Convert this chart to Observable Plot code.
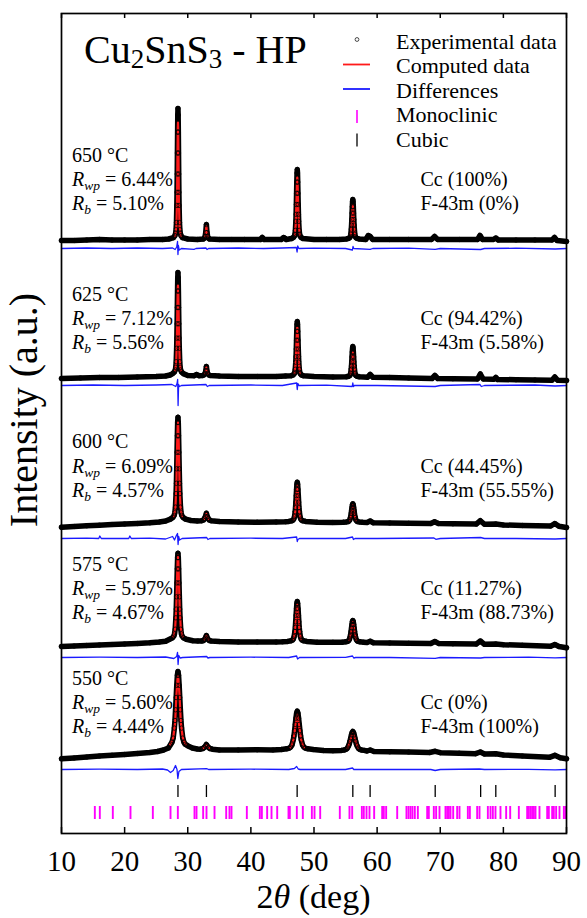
<!DOCTYPE html>
<html><head><meta charset="utf-8">
<script src="https://cdn.jsdelivr.net/npm/d3@7"></script>
<script src="https://cdn.jsdelivr.net/npm/@observablehq/plot@0.6"></script>
<style>body{margin:0;background:#fff} svg{display:block}</style>
</head><body><div id="chart"></div>
<script>
// ---------- DATA (2θ in degrees, intensity in a.u. above each pattern's baseline) ----------
const temps = ["650", "625", "600", "575", "550"];
const rwp = ["6.44", "7.12", "6.09", "5.97", "5.60"];
const rb = ["5.10", "5.56", "4.57", "4.67", "4.44"];
const ccPct = ["100", "94.42", "44.45", "11.27", "0"];
const f43Pct = ["0", "5.58", "55.55", "88.73", "100"];
const xTicks = [10, 20, 30, 40, 50, 60, 70, 80, 90];

const cubicPeaks = [28.45, 32.96, 47.33, 56.15, 58.89, 69.2, 76.4, 78.8, 88.2];
const monoPeaks = [15.28, 16.07, 18.13, 20.93, 24.47, 27.27, 28.43, 31.07, 31.39, 32.44, 32.97, 34.24, 36.09, 36.61, 36.93, 39.36, 41.42, 41.74, 42.58, 43.27, 44.17, 45.96, 46.17, 47.28, 48.23, 49.66, 50.08, 50.98, 54.09, 55.62, 56.05, 57.58, 57.89, 58.32, 58.79, 59.53, 60.8, 61.06, 61.43, 63.18, 64.65, 64.97, 65.29, 65.6, 65.97, 66.45, 67.93, 68.19, 68.98, 69.35, 69.88, 70.83, 71.1, 71.36, 71.62, 72.05, 72.68, 73.05, 74.37, 74.69, 75.85, 76.22, 77.54, 77.96, 78.33, 78.75, 79.54, 80.44, 81.08, 82.45, 83.77, 84.03, 84.3, 84.56, 84.83, 85.09, 85.72, 86.94, 87.2, 87.73, 87.99, 88.36, 88.89, 89.58, 89.84];

const obs650 = [[10,1],[12,1],[14,1.5],[16,2],[18,1.5],[20,1.5],[22,1.5],[24,2],[26,2],[27,2.5],
[27.73,3.8],[27.97,5.9],[28.09,8.55],[28.15,11.8],[28.21,19],[28.27,36.1],[28.3,49.2],[28.33,67.5],[28.36,88.5],[28.39,109.4],[28.42,126.5],[28.45,133],[28.48,126.5],[28.51,109.4],[28.54,88.5],[28.57,67.5],[28.6,49.2],[28.63,36.1],[28.69,19],[28.75,11.8],[28.81,8.55],[28.93,5.9],[29.17,3.8],
[30,2.5],[31.5,2],[32.45,2.5],[32.65,3.5],[32.75,5],[32.85,9],[32.95,17],[33.05,9],[33.15,5],[33.25,3.5],[33.45,2.5],
[35,2],[37,2],[39,2],[41.5,2],[41.8,4],[42.1,2],[44.8,2],[45.2,4],[45.6,2],
[46.45,3],[46.75,4.1],[46.9,5.5],[46.975,7.25],[47.05,11.1],[47.125,20.2],[47.1625,27.2],[47.2,37],[47.2375,48.2],[47.275,59.4],[47.3125,68.5],[47.35,72],[47.3875,68.5],[47.425,59.4],[47.4625,48.2],[47.5,37],[47.5375,27.2],[47.575,20.2],[47.65,11.1],[47.725,7.25],[47.8,5.5],[47.95,4.1],[48.25,3],
[50,2],[52,2],[54,2],
[55.19,2.6],[55.51,3.2],[55.67,4],[55.75,5],[55.83,7.2],[55.91,12.4],[55.95,16.4],[55.99,22],[56.03,28.4],[56.07,34.8],[56.11,40],[56.15,42],[56.19,40],[56.23,34.8],[56.27,28.4],[56.31,22],[56.35,16.4],[56.39,12.4],[56.47,7.2],[56.55,5],[56.63,4],[56.79,3.2],[57.11,2.6],
[58.2,2],[58.6,6],[58.9,5],[59.3,2],[62,2],[65,2],[68.6,2],[69.1,5],[69.6,2],[73,2],[75.9,2],[76.3,6],[76.7,2],[78.4,2],[78.8,3.5],[79.2,1.5],[82,1.5],[85,1.5],[87.7,1.5],[88.1,4],[88.5,1],[90,0]];

const obs625 = [[10,-1],[13,-0.5],[16,0],[19,0],[22,0.5],[25,1],[26.5,1.5],[27.2,2.5],
[27.61,3.9],[27.89,5.6],[28.03,7.6],[28.1,10.2],[28.17,15.8],[28.24,29.2],[28.275,39.4],[28.31,53.7],[28.345,70],[28.38,86.5],[28.415,100],[28.45,105],[28.485,100],[28.52,86.5],[28.555,70],[28.59,53.7],[28.625,39.4],[28.66,29.2],[28.73,15.8],[28.8,10.2],[28.87,7.6],[29.01,5.6],[29.29,3.9],
[30,2],[31,1.8],[31.4,3],[31.8,1.8],
[32.35,2],[32.55,2.5],[32.75,4],[32.85,6.5],[32.95,11],[33.05,6.5],[33.15,4],[33.35,2.5],[33.55,2],
[35,1.5],[38,1],[41,1],[44,1],[45.5,1.5],
[46.39,1.8],[46.71,2.65],[46.87,3.75],[46.95,5.1],[47.03,8.2],[47.11,15.3],[47.15,20.8],[47.19,28.5],[47.23,37.3],[47.27,46.1],[47.31,53.3],[47.35,56],[47.39,53.3],[47.43,46.1],[47.47,37.3],[47.51,28.5],[47.55,20.8],[47.59,15.3],[47.67,8.2],[47.75,5.1],[47.83,3.75],[47.99,2.65],[48.31,1.8],
[50,1],[53,0.5],
[55.13,0.7],[55.47,1.2],[55.64,1.8],[55.725,2.6],[55.81,4.3],[55.895,8.3],[55.94,11.4],[55.98,15.7],[56.02,20.6],[56.065,25.5],[56.11,29.5],[56.15,31],[56.19,29.5],[56.235,25.5],[56.28,20.6],[56.32,15.7],[56.36,11.4],[56.405,8.3],[56.49,4.3],[56.575,2.6],[56.66,1.8],[56.83,1.2],[57.17,0.7],
[58.5,0.3],[58.9,3],[59.3,0.3],[62,0],[65,-0.5],[68.7,-1],[69.15,2],[69.6,-1],[72,-1.2],[75.9,-1.5],[76.35,3.5],[76.8,-1.5],[78.5,-1.8],[78.8,0],[79.1,-2],[82,-2.2],[85,-2.5],[87.7,-2.7],[88.15,0.5],[88.6,-2.8],[90,-3]];

const obs600 = [[10,-4.7],[12,-4],[14,-3.3],[16,-2.7],[18,-2],[20,-1.5],[22,-1],[24,-0.3],[25.5,0.5],[26.5,1.5],
[27.25,3.4],[27.65,5.1],[27.85,7.2],[27.95,9.7],[28.05,15.4],[28.15,28.9],[28.2,39.2],[28.25,53.7],[28.3,70.2],[28.35,86.7],[28.4,100.1],[28.45,105.3],[28.5,100.1],[28.55,86.7],[28.6,70.2],[28.65,53.7],[28.7,39.2],[28.75,28.9],[28.85,15.4],[28.95,9.7],[29.05,7.2],[29.25,5.1],[29.65,3.4],
[30.5,2],[31.5,1.6],
[32.2,1.8],[32.5,2.5],[32.65,4],[32.8,6],[32.95,9.3],[33.1,6],[33.25,4],[33.4,2.5],[33.7,1.8],
[35,1],[38,0.5],[41,0.3],[44,0.5],[45.5,0.8],
[46.03,1.1],[46.47,1.7],[46.69,2.5],[46.8,3.5],[46.91,5.7],[47.02,10.8],[47.075,14.8],[47.13,20.4],[47.185,26.8],[47.24,33.1],[47.295,38.3],[47.35,40.3],[47.405,38.3],[47.46,33.1],[47.515,26.8],[47.57,20.4],[47.625,14.8],[47.68,10.8],[47.79,5.7],[47.9,3.5],[48.01,2.5],[48.23,1.7],[48.67,1.1],
[50.5,0.3],[53,0],
[54.65,0.3],[55.15,0.6],[55.4,0.9],[55.525,1.4],[55.65,2.4],[55.775,4.9],[55.84,6.7],[55.9,9.4],[55.96,12.3],[56.025,15.3],[56.09,17.8],[56.15,18.7],[56.21,17.8],[56.275,15.3],[56.34,12.3],[56.4,9.4],[56.46,6.7],[56.525,4.9],[56.65,2.4],[56.775,1.4],[56.9,0.9],[57.15,0.6],[57.65,0.3],
[58.4,0],[58.9,1.5],[59.4,-0.3],[62,-0.5],[65,-0.8],[68.5,-1],[69.1,0.8],[69.7,-1],[72,-1.3],[75.7,-1.6],[76.35,1.8],[77,-1.8],[78.8,-1.5],[80,-2.5],[83,-3],[87.5,-3.5],[88.15,-1],[88.8,-3.7],[90,-5]];

const obs575 = [[10,-4],[12,-3.5],[14,-3],[16,-2.5],[18,-2],[20,-1.5],[22,-1],[24,-0.3],[25.5,0.5],[26.5,1.2],
[27.13,3.2],[27.57,4.6],[27.79,6.4],[27.9,8.5],[28.01,13.3],[28.12,24.7],[28.175,33.4],[28.23,45.7],[28.285,59.6],[28.34,73.6],[28.395,84.9],[28.45,89.3],[28.505,84.9],[28.56,73.6],[28.615,59.6],[28.67,45.7],[28.725,33.4],[28.78,24.7],[28.89,13.3],[29,8.5],[29.11,6.4],[29.33,4.6],[29.77,3.2],
[30.8,1.8],[31.6,1.5],
[32.2,1.5],[32.5,2],[32.65,3],[32.8,4.5],[32.95,7],[33.1,4.5],[33.25,3],[33.4,2],[33.7,1.5],
[35,1],[38,0.5],[41,0.5],[44,0.5],[45,0.7],
[45.85,1.1],[46.35,1.7],[46.6,2.5],[46.725,3.5],[46.85,5.8],[46.975,11],[47.04,15.1],[47.1,20.75],[47.16,27.2],[47.225,33.7],[47.29,39],[47.35,41],[47.41,39],[47.475,33.7],[47.54,27.2],[47.6,20.75],[47.66,15.1],[47.725,11],[47.85,5.8],[47.975,3.5],[48.1,2.5],[48.35,1.7],[48.85,1.1],
[50.5,0.3],[53,0.2],
[54.47,0.3],[55.03,0.66],[55.31,1.1],[55.45,1.65],[55.59,2.9],[55.73,5.7],[55.8,7.9],[55.87,11],[55.94,14.5],[56.01,18],[56.08,20.9],[56.15,22],[56.22,20.9],[56.29,18],[56.36,14.5],[56.43,11],[56.5,7.9],[56.57,5.7],[56.71,2.9],[56.85,1.65],[56.99,1.1],[57.27,0.66],[57.83,0.3],
[58.4,0],[58.9,1.3],[59.4,-0.3],[62,-0.5],[65,-0.8],[68.5,-1],[69.15,1],[69.8,-1.1],[72,-1.3],[75.7,-1.6],[76.35,1.5],[77,-1.8],[78.8,-1.5],[80,-2.2],[83,-2.8],[87.5,-3.8],[88.15,-2],[88.8,-4],[90,-5.3]];

const obs550 = [[10,-8.3],[12,-7.5],[14,-6.6],[16,-5.6],[18,-4.8],[20,-4],[22,-3],[24,-2],[25.2,-1],
[26.17,0.5],[26.93,2.5],[27.31,6.3],[27.5,8.2],[27.69,12.4],[27.88,22.4],[27.975,30],[28.07,40.75],[28.165,53],[28.26,65.2],[28.355,75.2],[28.45,79],[28.545,75.2],[28.64,65.2],[28.735,53],[28.83,40.75],[28.925,30],[29.02,22.4],[29.21,12.4],[29.4,8.2],[29.59,6.3],[29.97,4.8],[30.73,2.5],
[31.5,1.5],
[32,1.3],[32.4,2],[32.6,3],[32.8,4.5],[32.95,6],[33.1,4.5],[33.3,3],[33.5,2],[33.9,1.3],
[35,0.5],[38,0.6],[41,0.7],[43.5,0.6],
[44.83,1],[45.67,1.7],[46.09,2.4],[46.3,3.4],[46.51,5.5],[46.72,10.6],[46.825,14.5],[46.93,19.9],[47.035,26.1],[47.14,32.3],[47.245,37.4],[47.35,39.3],[47.455,37.4],[47.56,32.3],[47.665,26.1],[47.77,19.9],[47.875,14.5],[47.98,10.6],[48.19,5.5],[48.4,3.4],[48.61,2.4],[49.03,1.7],[49.87,1],
[51.5,0],[53,-0.2],
[54.35,0.1],[54.8,0.5],[55.025,1],[55.25,2],[55.475,4.6],[55.5875,6.5],[55.7,9.25],[55.8125,12.4],[55.925,15.5],[56.0375,18],[56.15,19],[56.2625,18],[56.375,15.5],[56.4875,12.4],[56.6,9.25],[56.7125,6.5],[56.825,4.6],[57.05,2],[57.275,1],[57.5,0.5],[57.95,0.1],
[58.4,-0.5],[58.9,0.5],[59.5,-1],[62,-1.3],[65,-1.6],[68.3,-2],[69.2,-0.8],[70,-2.2],[73,-2.7],[75.6,-3.2],[76.35,-1.5],[77,-3.5],[78.8,-3.3],[80,-4.5],[83,-5.5],[87.3,-6.8],[88.15,-4.8],[89,-7.2],[90,-8.3]];

// computed profiles (visible red parts at the reflections)
const calc650 = [
 [[28.0,5],[28.2,15],[28.3,40],[28.36,82],[28.42,114],[28.45,119],[28.48,114],[28.54,82],[28.6,40],[28.7,15],[28.9,5]],
 [[32.75,5],[32.85,9],[32.95,15],[33.05,9],[33.15,5]],
 [[46.95,6],[47.1,17],[47.22,40],[47.3,59],[47.35,64],[47.4,59],[47.48,40],[47.6,17],[47.75,6]],
 [[55.8,6],[55.95,15],[56.05,28],[56.15,37],[56.25,28],[56.35,15],[56.5,6]]];
const calc625 = [
 [[28.0,7],[28.17,15],[28.27,35],[28.34,65],[28.41,88],[28.45,92],[28.49,88],[28.56,65],[28.63,35],[28.73,15],[28.9,7]],
 [[32.7,4],[32.85,6.5],[32.95,10],[33.05,6.5],[33.2,4]],
 [[46.9,4],[47.1,14],[47.22,35],[47.3,47],[47.35,50],[47.4,47],[47.48,35],[47.6,14],[47.8,4]],
 [[55.75,3],[55.95,12],[56.07,22],[56.15,25],[56.23,22],[56.35,12],[56.55,3]]];
const calc600 = [
 [[27.8,6],[28.05,15],[28.2,38],[28.32,78],[28.41,97],[28.45,100],[28.49,97],[28.58,78],[28.7,38],[28.85,15],[29.1,6]],
 [[32.6,3.5],[32.8,5.5],[32.95,8.5],[33.1,5.5],[33.3,3.5]],
 [[46.8,3],[47.05,11],[47.2,25],[47.3,35],[47.35,37],[47.4,35],[47.5,25],[47.65,11],[47.9,3]],
 [[55.7,2],[55.95,10],[56.1,16],[56.15,17],[56.2,16],[56.35,10],[56.6,2]]];
const calc575 = [
 [[27.7,6],[28.0,14],[28.17,33],[28.3,62],[28.4,84],[28.45,87],[28.5,84],[28.6,62],[28.73,33],[28.9,14],[29.2,6]],
 [[32.6,3],[32.8,4.5],[32.95,6.5],[33.1,4.5],[33.3,3]],
 [[46.75,3],[47.0,11],[47.17,26],[47.3,36],[47.35,38],[47.4,36],[47.53,26],[47.7,11],[47.95,3]],
 [[55.6,2.5],[55.9,11],[56.08,19],[56.15,20],[56.22,19],[56.4,11],[56.7,2.5]]];
const calc550 = [
 [[27.2,6],[27.7,13],[28.0,28],[28.2,55],[28.37,71],[28.45,74],[28.53,71],[28.7,55],[28.9,28],[29.2,13],[29.7,6]],
 [[32.4,2],[32.7,3.8],[32.95,5.5],[33.2,3.8],[33.5,2]],
 [[46.3,3],[46.75,11],[47.05,24],[47.25,33],[47.35,36],[47.45,33],[47.65,24],[47.95,11],[48.4,3]],
 [[55.3,2.5],[55.75,10],[56.02,16],[56.15,17],[56.28,16],[56.55,10],[57.0,2.5]]];

// differences (obs - calc)
const diff650 = [[10,0],[14,0.5],[18,0],[22,0.5],[26,0],[27.6,0.5],[28.0,-1],[28.25,1.5],[28.38,7],[28.45,-6],[28.52,3],[28.65,-1.5],[29,0],[31,-0.8],[31.3,0],[32.9,0.5],[33.05,-1],[33.3,0],[38,0.5],[42,0],[45,0.5],[47.2,1],[47.32,-3.5],[47.42,2.5],[47.6,0],[50,0.3],[55,0],[56.08,-1.5],[56.18,2],[56.3,0],[58.9,-0.8],[59.3,0],[65,0.3],[69.2,-0.8],[70,0],[76.4,-1],[77,0],[82,0.3],[88.2,-0.5],[90,0]];
const diff625 = [[10,0],[15,0.5],[20,0],[25,0.5],[27.5,1],[28.1,-1],[28.3,2],[28.4,6],[28.47,-20],[28.55,1],[28.7,-1],[29,0],[32.9,1],[33.1,-1],[33.4,0],[40,0.5],[45,0],[47.25,2.5],[47.35,-4],[47.45,2],[47.6,0],[52,0.3],[56.05,-1],[56.15,2.5],[56.25,-1],[56.4,0],[60,0],[69.2,-1],[70,0],[76.3,1],[76.5,-1],[77,0],[85,0.5],[88.2,-0.5],[90,0]];
const diff600 = [[10,0],[14,0.3],[15.9,0],[16.07,2.5],[16.3,0],[20.65,0],[20.83,2.5],[21.05,0],[24,0.3],[26.5,-0.5],[27.6,2],[27.9,-1.5],[28.2,3],[28.38,5],[28.47,-6],[28.56,2],[28.7,-1.5],[29.1,0],[33,1],[33.2,-1],[33.5,0],[40,0.3],[45,0],[47.25,1.5],[47.35,-3],[47.45,-1],[47.7,0],[55,0],[56.1,1.5],[56.25,-1],[56.5,0],[60,0],[69,0.5],[69.3,-0.8],[70,0],[76.4,1],[77,0],[82,0],[88.2,-0.5],[90,0]];
const diff575 = [[10,0],[16,0.3],[22,0],[26.5,0.5],[27.8,-1],[28.25,1],[28.38,5],[28.47,-7],[28.58,2],[28.8,-0.5],[29.2,0],[33,1],[33.2,-0.5],[33.5,0],[40,0.3],[46,0],[47.25,1.5],[47.4,-1.5],[47.7,0],[55,0.2],[56.1,1.5],[56.3,-0.5],[56.6,0],[62,0],[69.2,-0.8],[70,0],[76.4,-0.5],[77,0],[84,0.3],[88.2,-0.3],[90,0]];
const diff550 = [[10,0],[16,0.3],[22,0],[26,0.5],[26.8,-0.5],[27.27,-3],[27.7,-1],[28.06,4],[28.3,0],[28.43,-9],[28.6,-2],[29,0],[33,0.8],[33.3,0],[40,0.3],[46,0],[46.9,1],[47.25,3],[47.5,0.5],[47.8,0],[55,0],[56.1,1.5],[56.3,0],[62,0],[68.5,0],[69.2,-1],[70,0],[76.2,0.5],[77,0],[84,0.2],[88.2,-0.3],[90,0]];

// ---------- LAYOUT (stacking offsets, a.u.) ----------
const obsOffsets = [592, 456, 311, 191, 83];
const diffOffsets = [585, 448, 295, 176, 64];
const obsSets = [obs650, obs625, obs600, obs575, obs550];
const calcSets = [calc650, calc625, calc600, calc575, calc550];
const diffSets = [diff650, diff625, diff600, diff575, diff550];

const obsRows = obsSets.flatMap((a, i) => a.map(([x, y]) => ({x, y: y + obsOffsets[i], s: i})));
const calcRows = calcSets.flatMap((segs, i) => segs.flatMap((seg, j) => seg.map(([x, y]) => ({x, y: y + obsOffsets[i], s: i + "-" + j}))));
const diffRows = diffSets.flatMap((a, i) => a.map(([x, y]) => ({x, y: y + diffOffsets[i], s: i})));

const serif = "'Liberation Serif','Times New Roman',serif";
const RED = "#ff1a1a", BLUE = "#1a1aff", MAG = "#ff00ff";

const chart = Plot.plot({
  width: 587, height: 918,
  marginLeft: 61, marginRight: 21, marginTop: 13, marginBottom: 85,
  style: {fontFamily: serif, fontSize: "29px", background: "white", color: "black", overflow: "visible"},
  x: {domain: [10, 90], ticks: xTicks, tickSize: 0, tickPadding: 17, label: null, tickFormat: d => String(d)},
  y: {domain: [0, 820], axis: null},
  marks: [
    Plot.line(obsRows, {x: "x", y: "y", z: "s", stroke: "black", strokeWidth: 5.5, strokeLinejoin: "round", strokeLinecap: "round"}),
    Plot.line(calcRows, {x: "x", y: "y", z: "s", stroke: RED, strokeWidth: 2.2}),
    Plot.dot(obsRows, {x: "x", y: "y", r: 2.2, stroke: "black", strokeWidth: 0.8, fill: "none"}),
    Plot.line(diffRows, {x: "x", y: "y", z: "s", stroke: BLUE, strokeWidth: 1.3}),
    Plot.ruleX(cubicPeaks, {x: d => d, y1: 36, y2: 48, stroke: "black", strokeWidth: 1.3}),
    Plot.ruleX(monoPeaks, {x: d => d, y1: 14, y2: 27, stroke: MAG, strokeWidth: 1.9}),
    Plot.ruleX(xTicks, {x: d => d, y1: 0, y2: 6, stroke: "black", strokeWidth: 1.5}),
    Plot.ruleX(xTicks, {x: d => d, y1: 820, y2: 815, stroke: "black", strokeWidth: 1.5}),
    Plot.frame({stroke: "black", strokeWidth: 1.7})
  ]
});
document.getElementById("chart").appendChild(chart);

// ---------- TEXT & LEGEND ----------
const svg = d3.select(chart);
const g = svg.append("g").attr("font-family", serif).attr("fill", "black");
function addText(x, y, size, parts, anchor = "start") {
  const t = g.append("text").attr("x", x).attr("y", y).attr("font-size", size)
    .attr("text-anchor", anchor).style("white-space", "pre");
  parts.forEach(p => {
    const ts = t.append("tspan").text(p.t);
    if (p.s) ts.attr("font-size", p.s);
    if (p.dy) ts.attr("dy", p.dy);
    if (p.i) ts.attr("font-style", "italic");
  });
  return t;
}
// title
addText(84, 63, 40, [{t: "Cu"}, {t: "2", s: 27, dy: 5}, {t: "SnS", dy: -5}, {t: "3", s: 27, dy: 5}, {t: " - HP", dy: -5}]);

// pattern annotations
const labelTop = [162, 300.7, 448.3, 570.7, 685];
temps.forEach((t, i) => {
  const y0 = labelTop[i];
  addText(72, y0, 20, [{t: t + " °C"}]);
  addText(72, y0 + 24.3, 20, [{t: "R", i: true}, {t: "wp", i: true, s: 13.5, dy: 4}, {t: " = " + rwp[i] + "%", dy: -4}]);
  addText(72, y0 + 48.3, 20, [{t: "R", i: true}, {t: "b", i: true, s: 13.5, dy: 4}, {t: " = " + rb[i] + "%", dy: -4}]);
  addText(420.5, y0 + 24.3, 20, [{t: "Cc (" + ccPct[i] + "%)"}]);
  addText(420.5, y0 + 48.3, 20, [{t: "F-43m (" + f43Pct[i] + "%)"}]);
});

// legend
const lg = svg.append("g");
lg.append("circle").attr("cx", 357).attr("cy", 39.5).attr("r", 1.9).attr("fill", "none").attr("stroke", "#333").attr("stroke-width", 0.9);
lg.append("line").attr("x1", 343).attr("x2", 370).attr("y1", 64.5).attr("y2", 64.5).attr("stroke", RED).attr("stroke-width", 1.8);
lg.append("line").attr("x1", 343).attr("x2", 370).attr("y1", 89).attr("y2", 89).attr("stroke", BLUE).attr("stroke-width", 1.8);
lg.append("line").attr("x1", 357).attr("x2", 357).attr("y1", 110).attr("y2", 123).attr("stroke", MAG).attr("stroke-width", 1.6);
lg.append("line").attr("x1", 357).attr("x2", 357).attr("y1", 133.5).attr("y2", 146.5).attr("stroke", "black").attr("stroke-width", 1.3);
["Experimental data", "Computed data", "Differences", "Monoclinic", "Cubic"].forEach((t, i) => {
  addText(396, [48.5, 73, 97.5, 122, 146.5][i], 22, [{t}]);
});

// axis titles
addText(313.5, 908, 34, [{t: "2"}, {t: "θ", i: true}, {t: " (deg)"}], "middle");
g.append("text").attr("transform", "translate(37,410) rotate(-90)").attr("text-anchor", "middle")
  .attr("font-size", 40).text("Intensity (a.u.)");
</script>
</body></html>
